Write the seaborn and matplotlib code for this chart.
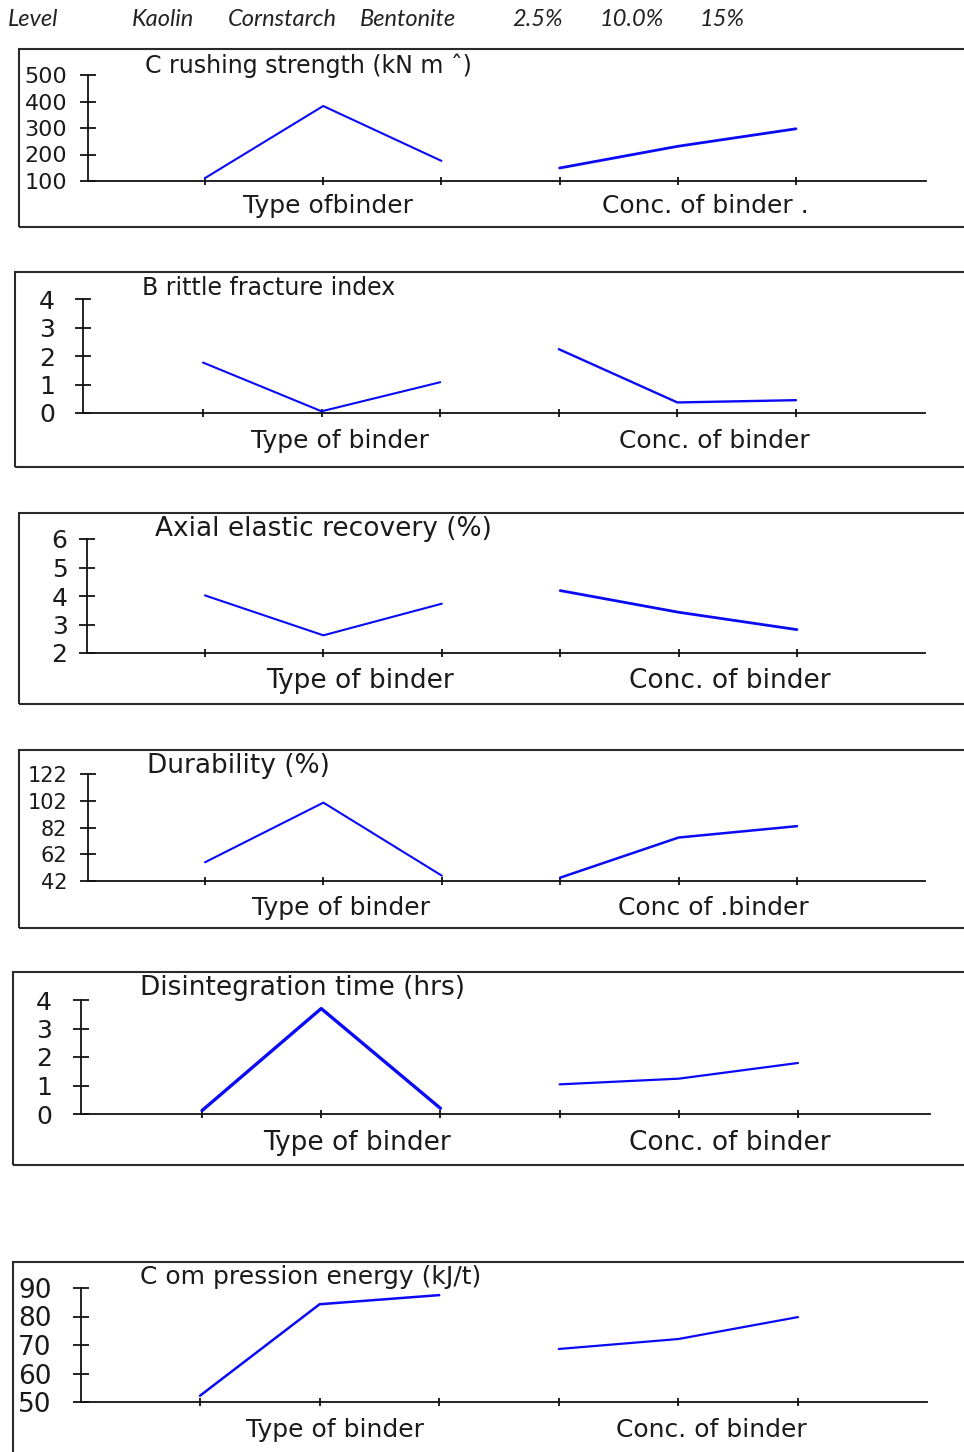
import numpy as np
import pandas as pd
import matplotlib
matplotlib.use("Agg")
import matplotlib.pyplot as plt
from matplotlib.patches import Rectangle
import seaborn as sns

# ---- data -------------------------------------------------------------
levels = ["Kaolin", "Cornstarch", "Bentonite", "2.5%", "10.0%", "15%"]

crushing_binder = [111, 383, 176]
crushing_conc = [149, 231, 297]

brittle_binder = [1.77, 0.06, 1.08]
brittle_conc = [2.24, 0.37, 0.45]

axial_binder = [4.02, 2.62, 3.73]
axial_conc = [4.19, 3.43, 2.82]

durability_binder = [56, 100.6, 46]
durability_conc = [44.5, 74.5, 83]

disint_binder = [0.12, 3.7, 0.2]
disint_conc = [1.04, 1.24, 1.79]

compression_binder = [52.2, 84.3, 87.5]
compression_conc = [68.6, 72.1, 79.8]

titles = ["C rushing strength (kN m \u02c6)", "B rittle fracture index",
          "Axial elastic recovery (%)", "Durability (%)",
          "Disintegration time (hrs)", "C om pression energy (kJ/t)"]
binder_labels = ["Type ofbinder", "Type of binder", "Type of binder",
                 "Type of binder", "Type of binder", "Type of binder"]
conc_labels = ["Conc. of binder .", "Conc. of binder", "Conc. of binder",
               "Conc of .binder", "Conc. of binder", "Conc. of binder"]
yticks = [[100, 200, 300, 400, 500], [0, 1, 2, 3, 4], [2, 3, 4, 5, 6],
          [42, 62, 82, 102, 122], [0, 1, 2, 3, 4], [50, 60, 70, 80, 90]]
series = [(crushing_binder, crushing_conc), (brittle_binder, brittle_conc),
          (axial_binder, axial_conc), (durability_binder, durability_conc),
          (disint_binder, disint_conc), (compression_binder, compression_conc)]

# ---- layout (pixels) --------------------------------------------------
W, H = 964, 1452
# spine x, x-axis end, top tick y, bottom axis y, first tick x, last tick x
axes_px = [(88, 926, 75, 181, 205, 796),
           (83, 925, 299, 413, 203, 796),
           (87, 925, 539, 653, 205, 797),
           (88, 925, 774, 881, 205, 797),
           (81, 930, 1000, 1114, 202, 798),
           (81, 927, 1288, 1402, 200, 798)]
# frame left, top, bottom
box_px = [(19, 49, 227), (15, 272, 467), (19, 513, 704),
          (19, 750, 928), (13, 972, 1165), (13, 1262, 1462)]
# title left x, title center y
title_px = [(145, 66), (142, 288), (155, 529), (147, 766), (140, 988), (140, 1277)]
title_size = [17, 17, 19, 19, 19, 18]
# group label center x (binder, conc), center y
group_px = [(328, 705, 206), (340, 714, 441), (360, 730, 681),
            (341, 713, 908), (357, 730, 1143), (335, 711, 1430)]
group_size = [18, 18, 19, 18, 19, 18]
ytick_size = [16, 18, 18, 15, 18, 19]
ytick_pad = [9, 14, 8, 9, 15, 15]
line_w = [(1.5, 2.0), (1.5, 1.7), (1.5, 2.0), (1.5, 1.8), (2.4, 1.6), (1.8, 1.6)]

BLUE = "#0a0af5"
INK = "#1a1a1a"

sns.set_theme(style="white")
plt.rcParams["font.family"] = ["DejaVu Sans"]

fig = plt.figure(figsize=(W / 100, H / 100), dpi=100)
fig.patch.set_facecolor("white")

pos = np.arange(1, len(levels) + 1)

for i, ((b_vals, c_vals), (L, R, T, B, t1, t6)) in enumerate(zip(series, axes_px)):
    # frame around the panel
    bl, bt, bb = box_px[i]
    fig.patches.append(Rectangle((bl / W, 1 - bb / H), (W + 20 - bl) / W, (bb - bt) / H,
                                 transform=fig.transFigure, fill=False,
                                 edgecolor="#2a2a2a", linewidth=1.5, zorder=0))

    ax = fig.add_axes([L / W, 1 - B / H, (R - L) / W, (B - T) / H])
    ax.set_facecolor("none")

    df_b = pd.DataFrame({"pos": pos[:3], "value": b_vals})
    df_c = pd.DataFrame({"pos": pos[3:], "value": c_vals})
    sns.lineplot(data=df_b, x="pos", y="value", color=BLUE, lw=line_w[i][0],
                 estimator=None, sort=False, ax=ax, clip_on=False)
    sns.lineplot(data=df_c, x="pos", y="value", color=BLUE, lw=line_w[i][1],
                 estimator=None, sort=False, ax=ax, clip_on=False)

    step = (t6 - t1) / 5
    ax.set_xlim(1 - (t1 - L) / step, 1 + (R - t1) / step)
    ax.set_ylim(yticks[i][0], yticks[i][-1])
    ax.set_xticks(pos)
    ax.set_xticklabels([])
    ax.set_yticks(yticks[i])
    ax.set_xlabel("")
    ax.set_ylabel("")

    for s in ("top", "right"):
        ax.spines[s].set_visible(False)
    for s in ("left", "bottom"):
        ax.spines[s].set_color("#111111")
        ax.spines[s].set_linewidth(1.3)
    ax.tick_params(axis="y", direction="inout", length=12, width=1.3,
                   color="#111111", labelsize=ytick_size[i], labelcolor=INK,
                   pad=ytick_pad[i], left=True)
    ax.tick_params(axis="x", direction="inout", length=6, width=1.3,
                   color="#111111", bottom=True)

    # panel title
    tx, ty = title_px[i]
    ax.text((tx - L) / (R - L), (B - ty) / (B - T), titles[i],
            transform=ax.transAxes, ha="left", va="center",
            fontsize=title_size[i], color=INK, clip_on=False)

    # group labels under each factor
    gx1, gx2, gy = group_px[i]
    for gx, lab in ((gx1, binder_labels[i]), (gx2, conc_labels[i])):
        ax.text((gx - L) / (R - L), (B - gy) / (B - T), lab,
                transform=ax.transAxes, ha="center", va="center",
                fontsize=group_size[i], color=INK, clip_on=False)

# header row with factor levels
header_x = [132, 228, 360, 512, 600, 700]
header_font = dict(ha="left", va="center", fontsize=17, style="italic",
                   family=["Lato", "Open Sans", "DejaVu Sans"], color="#222222")
fig.text(8 / W, 1 - 19 / H, "Level", **header_font)
for hx, lab in zip(header_x, levels):
    fig.text(hx / W, 1 - 19 / H, lab, **header_font)

fig.savefig("out.png", dpi=100, facecolor="white")
